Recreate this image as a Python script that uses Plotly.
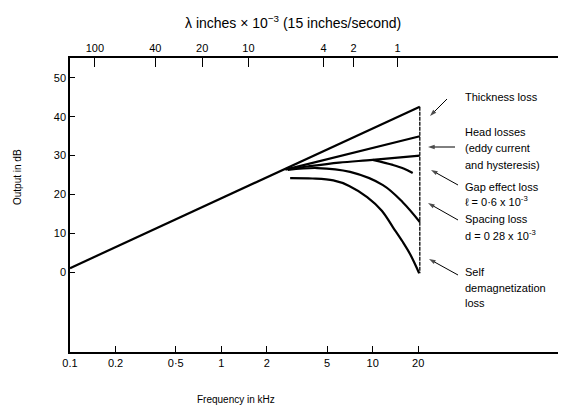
import plotly.graph_objects as go

# ---------------- data (frequency in kHz, output in dB) ----------------
freq_main = [0.1, 20.5]
db_main = [1.0, 42.6]

freq_head = [2.65, 20.5]
db_head = [26.4, 35.0]

freq_gap = [2.75, 3.7, 6.0, 10.0, 20.5]
db_gap = [26.5, 27.2, 28.2, 28.9, 30.0]

freq_gap_null = [10.0, 13.6, 16.0, 18.4]
db_gap_null = [28.9, 27.6, 26.7, 25.5]

freq_spacing = [2.75, 4.3, 7.1, 11.7, 15.8, 20.5]
db_spacing = [26.3, 26.8, 25.8, 22.4, 18.0, 12.9]

freq_self = [2.85, 4.0, 5.5, 7.0, 9.2, 11.5, 13.6, 15.8, 17.7, 20.3]
db_self = [24.2, 24.1, 23.6, 22.2, 19.3, 15.8, 11.6, 7.8, 4.6, -0.3]

bottom_tick_vals = [0.1, 0.2, 0.5, 1, 2, 5, 10, 20]
bottom_tick_text = ["0.1", "0.2", "0·5", "1", "2", "5", "10", "20"]

top_tick_vals = [0.146, 0.366, 0.748, 1.51, 4.73, 7.48, 14.6]
top_tick_text = ["100", "40", "20", "10", "4", "2", "1"]

y_tick_vals = [0, 10, 20, 30, 40, 50]

FONT = "Liberation Sans"

L, R, T, B = 70, 558, 58, 352
XR = [-1, 2.225]
YR = [-20.6, 55.15]


def px(x):
    return (x - L) / (R - L)


def py(y):
    return (B - y) / (B - T)


def pix_to_freq(x):
    return 10 ** (XR[0] + (x - L) / (R - L) * (XR[1] - XR[0]))


def pix_to_db(y):
    return YR[1] - (y - T) / (B - T) * (YR[1] - YR[0])


fig = go.Figure()
line_style = dict(color="black", width=2.2, shape="spline")
for fx, dy in [(freq_main, db_main), (freq_head, db_head), (freq_gap, db_gap),
               (freq_gap_null, db_gap_null), (freq_spacing, db_spacing),
               (freq_self, db_self)]:
    fig.add_trace(go.Scatter(x=fx, y=dy, mode="lines", line=line_style,
                             showlegend=False, hoverinfo="skip"))

# vertical dimension line at the high-frequency end
fig.add_trace(go.Scatter(x=[freq_main[-1], freq_main[-1]], y=[db_main[-1], db_self[-1]],
                         mode="lines", line=dict(color="black", width=1.3, dash="4px,1px"),
                         showlegend=False, hoverinfo="skip"))

# pointer arrows from labels (tail pixel -> head pixel)
arrows = [
    (447, 99, 430, 116),
    (455, 147, 428, 147),
    (458, 185, 431, 170),
    (458, 220, 428, 203),
    (458, 275, 429, 259),
]
for tx, ty, hx, hy in arrows:
    fig.add_trace(go.Scatter(
        x=[pix_to_freq(tx), pix_to_freq(hx)], y=[pix_to_db(ty), pix_to_db(hy)],
        mode="lines+markers", line=dict(color="black", width=1),
        marker=dict(symbol=["circle", "arrow"], size=[0.1, 7], angleref="previous",
                    color="black", line=dict(width=0)),
        showlegend=False, hoverinfo="skip"))

# invisible trace to activate the top axis
fig.add_trace(go.Scatter(x=[1], y=[0], xaxis="x2", mode="markers",
                         marker=dict(opacity=0), showlegend=False, hoverinfo="skip"))

annotations = []
labels = [
    ("Thickness loss", 463, 97),
    ("Head losses", 463, 132),
    ("(eddy current", 463, 148),
    ("and hysteresis)", 463, 165),
    ("Gap effect loss", 463, 187),
    ("ℓ = 0·6 x 10<sup>-3</sup>", 463, 201),
    ("Spacing loss", 463, 219),
    ("d = 0 28 x 10<sup>-3</sup>", 463, 235),
    ("Self", 463, 272),
    ("demagnetization", 463, 288),
    ("loss", 463, 303),
]
for txt, x, y in labels:
    annotations.append(dict(text=txt, x=px(x), y=py(y), xref="paper", yref="paper",
                            xanchor="left", yanchor="middle", showarrow=False,
                            font=dict(size=11, color="black", family=FONT)))

annotations.append(dict(text="λ inches × 10<sup>−3</sup> (15 inches/second)",
                        x=px(293), y=py(22), xref="paper", yref="paper",
                        xanchor="center", yanchor="middle", showarrow=False,
                        font=dict(size=14, color="black", family=FONT)))
annotations.append(dict(text="Frequency in kHz", x=px(236), y=py(399),
                        xref="paper", yref="paper", xanchor="center", yanchor="middle",
                        showarrow=False, font=dict(size=10, color="black", family=FONT)))
annotations.append(dict(text="Output in dB", x=px(17), y=py(177),
                        xref="paper", yref="paper", xanchor="center", yanchor="middle",
                        textangle=-90, showarrow=False,
                        font=dict(size=10, color="black", family=FONT)))

fig.update_layout(
    width=561, height=408, autosize=False,
    margin=dict(l=L, r=561 - R, t=T, b=408 - B, pad=0),
    paper_bgcolor="white", plot_bgcolor="white",
    font=dict(family=FONT, color="black", size=11),
    xaxis=dict(type="log", range=XR, tickvals=bottom_tick_vals, ticktext=bottom_tick_text,
               ticks="inside", ticklen=6, tickwidth=1, tickcolor="black",
               showline=True, linecolor="black", linewidth=1.5,
               showgrid=False, zeroline=False, tickfont=dict(size=11)),
    xaxis2=dict(type="log", range=XR, overlaying="x", side="top", anchor="y",
                tickvals=top_tick_vals, ticktext=top_tick_text,
                ticks="inside", ticklen=9, tickwidth=1, tickcolor="black",
                showline=True, linecolor="black", linewidth=1.5,
                showgrid=False, zeroline=False, tickfont=dict(size=11)),
    yaxis=dict(range=YR, tickvals=y_tick_vals,
               ticks="inside", ticklen=5, tickwidth=1, tickcolor="black",
               showline=True, linecolor="black", linewidth=1.5,
               showgrid=False, zeroline=False, tickfont=dict(size=11)),
    annotations=annotations,
)

fig.write_html("out.html")
